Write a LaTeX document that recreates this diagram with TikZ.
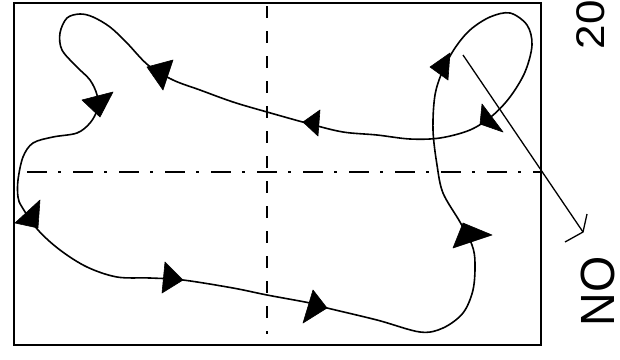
\documentclass[tikz,border=0pt]{standalone}
\usepackage{fontspec}
\setmainfont{Liberation Sans}
\begin{document}
\begin{tikzpicture}[x=1pt,y=-1pt,
  frameline/.style={line width=1.9pt},
  flowline/.style={line width=1.6pt},
  vdash/.style={line width=1.5pt, dash pattern=on 12pt off 13pt},
  hdash/.style={line width=1.5pt, dash pattern=on 20pt off 11pt on 3pt off 12pt},
  tri/.style={fill=black, draw=black, line width=0.6pt, line join=round},
  lbl/.style={inner sep=0pt, outer sep=0pt}]
\useasboundingbox (0,0) rectangle (620,359);
\begin{scope}
\clip (0,0) rectangle (620,359);
% frame
\draw[frameline] (14,3) rectangle (541,345);
% axes
\draw[vdash] (267,6) -- (267,334);
\draw[hdash] (27,172) -- (540,172);
% closed flow path
\draw[flowline] plot[smooth cycle, tension=0.55] coordinates {
 (22,207) (38,230) (60,250) (87,267) (117,277) (150,278) (183,280)
 (233,288) (267,295) (310,303) (323,307) (377,320) (420,332) (443,328)
 (463,313) (473,290) (475,263) (472,245) (460,222) (443,193) (437,165)
 (433,130) (435,95) (443,70) (455,48) (470,30) (490,17) (510,13)
 (527,25) (532,45) (525,72) (510,97) (492,116) (470,130) (440,138)
 (410,139) (377,135) (343,132) (310,124) (267,112) (233,102) (200,90)
 (173,80) (148,65) (127,43) (110,27) (93,17) (80,14) (67,18) (60,33)
 (62,50) (77,67) (90,80) (97,95) (97,110) (90,123) (77,133) (53,137)
 (33,143) (23,157) (18,180) (18,197)};
% arrowheads (tip, base, base)
\filldraw[tri] (147,67) -- (173,60) -- (163,90) -- cycle;
\filldraw[tri] (100,117) -- (82,100) -- (113,92) -- cycle;
\filldraw[tri] (38,228) -- (15,223) -- (40,200) -- cycle;
\filldraw[tri] (183,280) -- (165,262) -- (162,293) -- cycle;
\filldraw[tri] (327,308) -- (313,290) -- (303,323) -- cycle;
\filldraw[tri] (463,223) -- (453,248) -- (492,235) -- cycle;
\filldraw[tri] (450,53) -- (430,67) -- (448,80) -- cycle;
\filldraw[tri] (480,124) -- (482,104) -- (503,132) -- cycle;
\filldraw[tri] (303,122) -- (320,110) -- (318,136) -- cycle;
% pointer
\coordinate (ps) at (463,55);
\coordinate (pe) at (583,232);
\coordinate (pb1) at (587,214);
\coordinate (pb2) at (565,242);
\draw[line width=1.3pt] (ps) -- (pe);
\draw[line width=1.3pt, line join=miter] (pb1) -- (pe) -- (pb2);
% labels
\node[lbl, rotate=90, anchor=base west] (t20) at (604,49)
  {\fontsize{40}{40}\selectfont\scalebox{1.1}[1]{20}};
\node[lbl, rotate=90, anchor=base west] (tno) at (614,326)
  {\fontsize{48}{48}\selectfont\scalebox{0.97}[1]{NO}};
\end{scope}
\end{tikzpicture}
\end{document}
